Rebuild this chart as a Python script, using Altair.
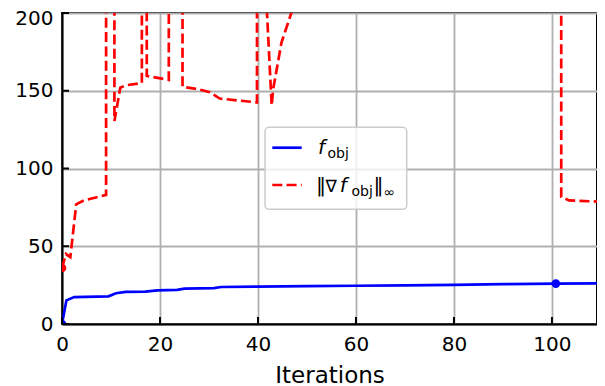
import altair as alt
import pandas as pd

# ---- data ----
# f_obj (blue)
blue_x = [0, 0.9, 2.5, 9.5, 11.0, 13.0, 17.0, 19.5, 23.5, 25.0, 31.0, 32.5, 40, 50, 60, 70, 80, 90, 100.8, 110.8]
blue_y = [0, 15.2, 17.3, 17.8, 19.8, 20.6, 20.8, 21.6, 22.0, 22.8, 23.1, 23.8, 24.0, 24.3, 24.6, 24.9, 25.2, 25.6, 26.0, 26.1]
blue_marker_x = [0, 100.8, 110.8]
blue_marker_y = [0, 26.0, 26.1]

# ||grad f_obj||_inf (red dashed); values above 200 are off the chart
red_x = [0, 0.8, 1.7, 2.9, 4.5, 9.0, 9.05, 10.55, 10.7, 11.9, 13.0, 16.3, 16.35, 17.2, 17.3,
         21.8, 22.0, 24.5, 24.6, 27.8, 30.2, 32.2, 39.8, 40.0, 41.6, 42.8, 43.1, 44.8, 46.8,
         48.0, 101.8, 101.9, 103.5, 110.8]
red_y = [36, 45, 43, 77, 79.5, 83, 3000, 3000, 130.5, 152, 153.5, 155, 3000, 3000, 159.5,
         157, 3000, 3000, 152.5, 151, 149, 145, 142.5, 3000, 215, 140.6, 151, 181, 200,
         3000, 3000, 81.7, 79.5, 78.5]
red_marker_x = [0, 110.8]
red_marker_y = [36, 78.5]

x_ticks = [0, 20, 40, 60, 80, 100]
y_ticks = [0, 50, 100, 150, 200]
x_title = "Iterations"

W, H = 535, 311
FONT = "DejaVu Sans"

xs = alt.Scale(domain=[0, 109.2], nice=False, zero=False)
ys = alt.Scale(domain=[0, 200], nice=False)

blue_df = pd.DataFrame({"x": blue_x, "y": blue_y})
red_df = pd.DataFrame({"x": red_x, "y": red_y})
bm_df = pd.DataFrame({"x": blue_marker_x, "y": blue_marker_y})
rm_df = pd.DataFrame({"x": red_marker_x, "y": red_marker_y})
xt_df = pd.DataFrame({"x": x_ticks})
yt_df = pd.DataFrame({"y": y_ticks})

xaxis = alt.Axis(values=x_ticks, title=x_title, grid=True, gridColor="#b0b0b0", gridWidth=1.8,
                 domainColor="black", domainWidth=2, ticks=False, labelFont=FONT, labelFontSize=20,
                 labelColor="black", labelPadding=10, titleFont=FONT, titleFontSize=23,
                 titleFontWeight="normal", titleColor="black", titlePadding=10, format="d",
                 labelFlush=False, labelOverlap=False)
yaxis = alt.Axis(values=y_ticks, title=None, grid=True, gridColor="#b0b0b0", gridWidth=1.8,
                 domainColor="black", domainWidth=2, ticks=False, labelFont=FONT, labelFontSize=20,
                 labelColor="black", labelPadding=9, format="d", labelFlush=False, labelOverlap=False,
                 labelOffset={"condition": {"test": "datum.value >= 200", "value": 5}, "value": 0})

X = alt.X("x:Q", scale=xs, axis=xaxis, title=x_title)
Y = alt.Y("y:Q", scale=ys, axis=yaxis, title=None)

blue_line = alt.Chart(blue_df).mark_line(color="#0000ff", strokeWidth=2.7, clip=True).encode(x=X, y=Y)
red_line = alt.Chart(red_df).mark_line(color="#ff0000", strokeWidth=2.7, strokeDash=[10, 4.3],
                                       clip=True).encode(x=X, y=Y)
blue_pts = alt.Chart(bm_df).mark_circle(color="#0000ff", size=75, opacity=1, clip=True).encode(x=X, y=Y)
red_pts = alt.Chart(rm_df).mark_circle(color="#ff0000", size=75, opacity=1, clip=True).encode(x=X, y=Y)

# inward ticks
x_tick_rules = alt.Chart(xt_df).mark_rule(color="black", strokeWidth=2).encode(
    x=X, y=alt.value(H), y2=alt.value(H - 7))
y_tick_rules = alt.Chart(yt_df).mark_rule(color="black", strokeWidth=2).encode(
    y=Y, x=alt.value(0), x2=alt.value(7))

# legend
one = pd.DataFrame({"a": [0]})
leg_box = alt.Chart(one).mark_rect(fill="white", fillOpacity=0.8, stroke="#cccccc", strokeWidth=1.5,
                                   cornerRadius=4).encode(
    x=alt.value(203), x2=alt.value(344.7), y=alt.value(114.3), y2=alt.value(196.3))
leg_blue = alt.Chart(one).mark_rule(color="#0000ff", strokeWidth=2.7).encode(
    x=alt.value(210.3), x2=alt.value(239.7), y=alt.value(134.7))
leg_red = alt.Chart(one).mark_rule(color="#ff0000", strokeWidth=2.7, strokeDash=[10, 4.3]).encode(
    x=alt.value(210.3), x2=alt.value(239.7), y=alt.value(172))


def txt(s, x, y, size=20, italic=False):
    return alt.Chart(one).mark_text(font=FONT, fontSize=size, align="left", baseline="alphabetic",
                                    color="black", fontStyle="italic" if italic else "normal").encode(
        x=alt.value(x), y=alt.value(y), text=alt.value(s))


legend_texts = [
    txt("f", 256, 141, italic=True),
    txt("obj", 265.5, 144.5, size=14),
    txt("\u2016", 254, 179),
    txt("\u2207", 263.5, 179, size=17),
    txt("f", 277.8, 179, italic=True),
    txt("obj", 289.5, 182.5, size=14),
    txt("\u2016", 311.5, 179),
    txt("\u221e", 321.5, 183.5, size=14),
]

chart = alt.layer(
    blue_line, red_line, blue_pts, red_pts, x_tick_rules, y_tick_rules,
    leg_box, leg_blue, leg_red, *legend_texts
).properties(
    width=W, height=H,
    autosize=alt.AutoSizeParams(type="none"),
    padding={"left": 54, "top": 5, "right": 0, "bottom": 68},
).configure_view(stroke="black", strokeWidth=2)

chart.save("out.html", embed_options={"renderer": "svg", "actions": False})
